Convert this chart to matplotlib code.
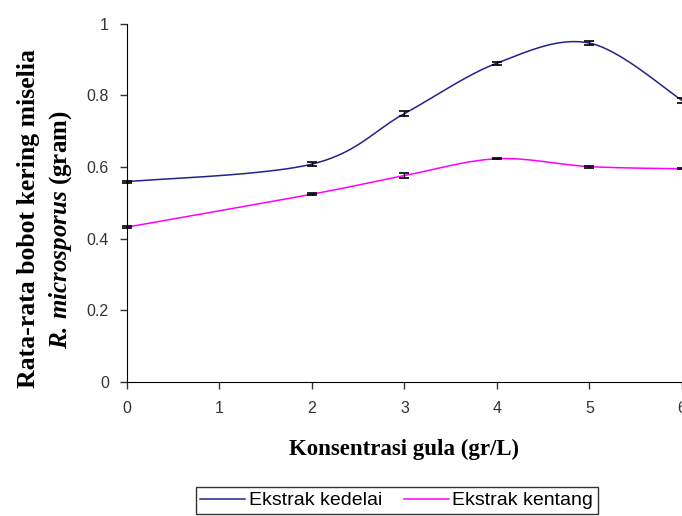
import numpy as np
import matplotlib
matplotlib.use("Agg")
import matplotlib.pyplot as plt

plt.rcParams['mathtext.fontset'] = 'custom'
plt.rcParams['mathtext.rm'] = 'Liberation Serif:bold'
plt.rcParams['mathtext.bfit'] = 'Liberation Serif:italic:bold'
plt.rcParams['mathtext.it'] = 'Liberation Serif:italic:bold'

# data
konsentrasi = [0, 2, 3, 4, 5, 6]
kedelai = [0.559, 0.608, 0.749, 0.890, 0.946, 0.786]
kedelai_err = [0.003, 0.005, 0.006, 0.004, 0.006, 0.006]
kentang = [0.432, 0.524, 0.576, 0.623, 0.601, 0.595]
kentang_err = [0.002, 0.002, 0.006, 0.001, 0.003, 0.002]


def smooth(x, y, n=40):
    # Excel-style smoothed line (bezier through points)
    x = np.asarray(x, float)
    y = np.asarray(y, float)
    px = np.concatenate([[x[0]], x, [x[-1]]])
    py = np.concatenate([[y[0]], y, [y[-1]]])
    xs, ys = [], []
    t = np.linspace(0, 1, n)
    for i in range(1, len(px) - 2):
        p0 = np.array([px[i], py[i]])
        p3 = np.array([px[i + 1], py[i + 1]])
        c1 = p0 + (np.array([px[i + 1], py[i + 1]]) - np.array([px[i - 1], py[i - 1]])) / 6
        c2 = p3 - (np.array([px[i + 2], py[i + 2]]) - np.array([px[i], py[i]])) / 6
        b = ((1 - t) ** 3)[:, None] * p0 + (3 * (1 - t) ** 2 * t)[:, None] * c1 \
            + (3 * (1 - t) * t ** 2)[:, None] * c2 + (t ** 3)[:, None] * p3
        xs.extend(b[:, 0])
        ys.extend(b[:, 1])
    return xs, ys


fig = plt.figure(figsize=(6.82, 5.16), dpi=100)
ax = fig.add_axes([0.186, 0.26, 0.814, 0.694])

sx, sy = smooth(konsentrasi, kedelai)
ax.plot(sx, sy, color='#22228f', lw=1.1, label='Ekstrak kedelai', clip_on=False)
sx, sy = smooth(konsentrasi, kentang)
ax.plot(sx, sy, color='#ff00ff', lw=1.1, label='Ekstrak kentang', clip_on=False)

ax.errorbar(konsentrasi, kedelai, yerr=kedelai_err, fmt='none', ecolor='black',
            elinewidth=1, capsize=3.5, capthick=1.2, clip_on=False)
ax.errorbar(konsentrasi, kentang, yerr=kentang_err, fmt='none', ecolor='black',
            elinewidth=1, capsize=3.5, capthick=1.2, clip_on=False)

ax.set_xlim(0, 6)
ax.set_ylim(0, 1)
ax.set_xticks(range(0, 7))
ax.set_yticks([0, 0.2, 0.4, 0.6, 0.8, 1])
ax.set_yticklabels(['0', '0.2', '0.4', '0.6', '0.8', '1'])
ax.spines['top'].set_visible(False)
ax.spines['right'].set_visible(False)
ax.tick_params(direction='out', length=5, width=1, labelsize=11.5, colors='#333333',
               labelcolor='#333333')
ax.tick_params(axis='y', pad=8)
ax.tick_params(axis='x', pad=9)
for lab in ax.get_xticklabels() + ax.get_yticklabels():
    lab.set_family('Liberation Sans')

ax.set_xlabel('Konsentrasi gula (gr/L)', family='Liberation Serif', weight='bold',
              fontsize=16.5, labelpad=16)

fig.text(0.042, 0.577, 'Rata-rata bobot kering miselia', rotation=90,
         family='Liberation Serif', weight='bold', fontsize=18.5, ha='center', va='center')
fig.text(0.089, 0.554, r'$\mathbfit{R.\,microsporus}$ (gram)', rotation=90,
         family='Liberation Serif', weight='bold', fontsize=18, ha='center', va='center')

leg = fig.legend(loc='upper center', bbox_to_anchor=(0.582, 0.075), ncol=2,
                 fancybox=False, edgecolor='#333333', framealpha=1, handlelength=2.3,
                 columnspacing=1.1, handletextpad=0.2, borderpad=0.25,
                 prop={'family': 'Liberation Sans', 'size': 14})
leg.get_frame().set_linewidth(1.0)

fig.savefig('out.png', dpi=100)
